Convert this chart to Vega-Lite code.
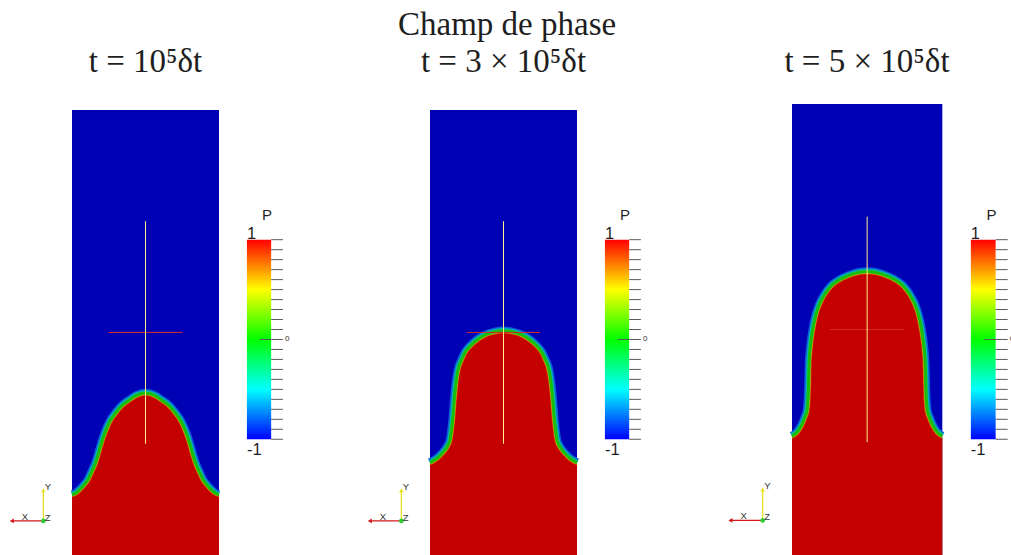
{
  "$schema": "https://vega.github.io/schema/vega-lite/v6.json",
  "background": "white",
  "padding": {"left": 0, "top": 9, "right": 0, "bottom": 0},
  "autosize": {"type": "pad"},
  "bounds": "flush",
  "spacing": 67,
  "title": {"text": "Champ de phase", "offset": 4, "anchor": "middle"},
  "config": {
    "view": {"stroke": null},
    "title": {"font": "Liberation Serif", "fontSize": 33, "fontWeight": "normal", "color": "#1e1e1e", "offset": 25, "anchor": "middle"}
  },
  "datasets": {
    "iface": [
      {"panel": 1, "x": 0, "y": 0.408, "xi": 0, "yi": 0.391},
      {"panel": 1, "x": 0.027, "y": 0.418, "xi": 0.036, "yi": 0.404},
      {"panel": 1, "x": 0.054, "y": 0.442, "xi": 0.066, "yi": 0.430},
      {"panel": 1, "x": 0.082, "y": 0.472, "xi": 0.095, "yi": 0.461},
      {"panel": 1, "x": 0.109, "y": 0.509, "xi": 0.124, "yi": 0.501},
      {"panel": 1, "x": 0.136, "y": 0.566, "xi": 0.152, "yi": 0.559},
      {"panel": 1, "x": 0.159, "y": 0.618, "xi": 0.175, "yi": 0.612},
      {"panel": 1, "x": 0.177, "y": 0.674, "xi": 0.193, "yi": 0.669},
      {"panel": 1, "x": 0.193, "y": 0.730, "xi": 0.209, "yi": 0.725},
      {"panel": 1, "x": 0.211, "y": 0.789, "xi": 0.227, "yi": 0.784},
      {"panel": 1, "x": 0.231, "y": 0.843, "xi": 0.247, "yi": 0.836},
      {"panel": 1, "x": 0.259, "y": 0.903, "xi": 0.274, "yi": 0.895},
      {"panel": 1, "x": 0.295, "y": 0.955, "xi": 0.309, "yi": 0.945},
      {"panel": 1, "x": 0.340, "y": 1.008, "xi": 0.352, "yi": 0.996},
      {"panel": 1, "x": 0.390, "y": 1.045, "xi": 0.400, "yi": 1.031},
      {"panel": 1, "x": 0.442, "y": 1.078, "xi": 0.449, "yi": 1.062},
      {"panel": 1, "x": 0.500, "y": 1.092, "xi": 0.500, "yi": 1.075},
      {"panel": 1, "x": 0.558, "y": 1.078, "xi": 0.551, "yi": 1.062},
      {"panel": 1, "x": 0.610, "y": 1.045, "xi": 0.600, "yi": 1.031},
      {"panel": 1, "x": 0.660, "y": 1.008, "xi": 0.648, "yi": 0.996},
      {"panel": 1, "x": 0.705, "y": 0.955, "xi": 0.691, "yi": 0.945},
      {"panel": 1, "x": 0.741, "y": 0.903, "xi": 0.726, "yi": 0.895},
      {"panel": 1, "x": 0.769, "y": 0.843, "xi": 0.753, "yi": 0.836},
      {"panel": 1, "x": 0.789, "y": 0.789, "xi": 0.773, "yi": 0.784},
      {"panel": 1, "x": 0.807, "y": 0.730, "xi": 0.791, "yi": 0.725},
      {"panel": 1, "x": 0.823, "y": 0.674, "xi": 0.807, "yi": 0.669},
      {"panel": 1, "x": 0.841, "y": 0.618, "xi": 0.825, "yi": 0.612},
      {"panel": 1, "x": 0.864, "y": 0.566, "xi": 0.848, "yi": 0.559},
      {"panel": 1, "x": 0.891, "y": 0.509, "xi": 0.876, "yi": 0.501},
      {"panel": 1, "x": 0.918, "y": 0.472, "xi": 0.905, "yi": 0.461},
      {"panel": 1, "x": 0.946, "y": 0.442, "xi": 0.934, "yi": 0.430},
      {"panel": 1, "x": 0.973, "y": 0.418, "xi": 0.964, "yi": 0.404},
      {"panel": 1, "x": 1, "y": 0.408, "xi": 1, "yi": 0.391},

      {"panel": 2, "x": 0, "y": 0.623, "xi": 0, "yi": 0.606},
      {"panel": 2, "x": 0.020, "y": 0.634, "xi": 0.029, "yi": 0.619},
      {"panel": 2, "x": 0.048, "y": 0.652, "xi": 0.059, "yi": 0.639},
      {"panel": 2, "x": 0.082, "y": 0.685, "xi": 0.095, "yi": 0.674},
      {"panel": 2, "x": 0.116, "y": 0.730, "xi": 0.131, "yi": 0.721},
      {"panel": 2, "x": 0.136, "y": 0.775, "xi": 0.152, "yi": 0.771},
      {"panel": 2, "x": 0.146, "y": 0.843, "xi": 0.163, "yi": 0.841},
      {"panel": 2, "x": 0.155, "y": 0.923, "xi": 0.172, "yi": 0.921},
      {"panel": 2, "x": 0.163, "y": 1.025, "xi": 0.180, "yi": 1.024},
      {"panel": 2, "x": 0.173, "y": 1.132, "xi": 0.190, "yi": 1.130},
      {"panel": 2, "x": 0.190, "y": 1.247, "xi": 0.207, "yi": 1.243},
      {"panel": 2, "x": 0.214, "y": 1.314, "xi": 0.230, "yi": 1.308},
      {"panel": 2, "x": 0.238, "y": 1.365, "xi": 0.252, "yi": 1.356},
      {"panel": 2, "x": 0.279, "y": 1.415, "xi": 0.291, "yi": 1.403},
      {"panel": 2, "x": 0.323, "y": 1.453, "xi": 0.333, "yi": 1.439},
      {"panel": 2, "x": 0.374, "y": 1.483, "xi": 0.381, "yi": 1.468},
      {"panel": 2, "x": 0.435, "y": 1.503, "xi": 0.439, "yi": 1.486},
      {"panel": 2, "x": 0.500, "y": 1.512, "xi": 0.500, "yi": 1.495},
      {"panel": 2, "x": 0.565, "y": 1.503, "xi": 0.561, "yi": 1.486},
      {"panel": 2, "x": 0.626, "y": 1.483, "xi": 0.619, "yi": 1.468},
      {"panel": 2, "x": 0.677, "y": 1.453, "xi": 0.667, "yi": 1.439},
      {"panel": 2, "x": 0.721, "y": 1.415, "xi": 0.709, "yi": 1.403},
      {"panel": 2, "x": 0.762, "y": 1.365, "xi": 0.748, "yi": 1.356},
      {"panel": 2, "x": 0.786, "y": 1.314, "xi": 0.770, "yi": 1.308},
      {"panel": 2, "x": 0.810, "y": 1.247, "xi": 0.793, "yi": 1.243},
      {"panel": 2, "x": 0.827, "y": 1.132, "xi": 0.810, "yi": 1.130},
      {"panel": 2, "x": 0.837, "y": 1.025, "xi": 0.820, "yi": 1.024},
      {"panel": 2, "x": 0.845, "y": 0.923, "xi": 0.828, "yi": 0.921},
      {"panel": 2, "x": 0.854, "y": 0.843, "xi": 0.837, "yi": 0.841},
      {"panel": 2, "x": 0.864, "y": 0.775, "xi": 0.848, "yi": 0.771},
      {"panel": 2, "x": 0.884, "y": 0.730, "xi": 0.869, "yi": 0.721},
      {"panel": 2, "x": 0.918, "y": 0.685, "xi": 0.905, "yi": 0.674},
      {"panel": 2, "x": 0.952, "y": 0.652, "xi": 0.941, "yi": 0.639},
      {"panel": 2, "x": 0.980, "y": 0.634, "xi": 0.971, "yi": 0.619},
      {"panel": 2, "x": 1, "y": 0.623, "xi": 1, "yi": 0.606},

      {"panel": 3, "x": 0, "y": 0.792, "xi": 0, "yi": 0.775},
      {"panel": 3, "x": 0.020, "y": 0.805, "xi": 0.031, "yi": 0.792},
      {"panel": 3, "x": 0.040, "y": 0.825, "xi": 0.054, "yi": 0.815},
      {"panel": 3, "x": 0.067, "y": 0.871, "xi": 0.082, "yi": 0.863},
      {"panel": 3, "x": 0.086, "y": 0.918, "xi": 0.102, "yi": 0.912},
      {"panel": 3, "x": 0.100, "y": 0.965, "xi": 0.117, "yi": 0.962},
      {"panel": 3, "x": 0.106, "y": 1.031, "xi": 0.123, "yi": 1.030},
      {"panel": 3, "x": 0.110, "y": 1.131, "xi": 0.127, "yi": 1.130},
      {"panel": 3, "x": 0.113, "y": 1.264, "xi": 0.130, "yi": 1.263},
      {"panel": 3, "x": 0.120, "y": 1.364, "xi": 0.137, "yi": 1.362},
      {"panel": 3, "x": 0.130, "y": 1.450, "xi": 0.147, "yi": 1.448},
      {"panel": 3, "x": 0.143, "y": 1.530, "xi": 0.160, "yi": 1.527},
      {"panel": 3, "x": 0.160, "y": 1.603, "xi": 0.176, "yi": 1.598},
      {"panel": 3, "x": 0.186, "y": 1.676, "xi": 0.202, "yi": 1.669},
      {"panel": 3, "x": 0.222, "y": 1.741, "xi": 0.236, "yi": 1.732},
      {"panel": 3, "x": 0.266, "y": 1.796, "xi": 0.278, "yi": 1.784},
      {"panel": 3, "x": 0.319, "y": 1.833, "xi": 0.327, "yi": 1.818},
      {"panel": 3, "x": 0.386, "y": 1.863, "xi": 0.392, "yi": 1.847},
      {"panel": 3, "x": 0.439, "y": 1.879, "xi": 0.442, "yi": 1.862},
      {"panel": 3, "x": 0.500, "y": 1.885, "xi": 0.500, "yi": 1.868},
      {"panel": 3, "x": 0.561, "y": 1.879, "xi": 0.558, "yi": 1.862},
      {"panel": 3, "x": 0.614, "y": 1.863, "xi": 0.608, "yi": 1.847},
      {"panel": 3, "x": 0.681, "y": 1.833, "xi": 0.673, "yi": 1.818},
      {"panel": 3, "x": 0.734, "y": 1.796, "xi": 0.722, "yi": 1.784},
      {"panel": 3, "x": 0.778, "y": 1.741, "xi": 0.764, "yi": 1.732},
      {"panel": 3, "x": 0.814, "y": 1.676, "xi": 0.798, "yi": 1.669},
      {"panel": 3, "x": 0.840, "y": 1.603, "xi": 0.824, "yi": 1.598},
      {"panel": 3, "x": 0.857, "y": 1.530, "xi": 0.840, "yi": 1.527},
      {"panel": 3, "x": 0.870, "y": 1.450, "xi": 0.853, "yi": 1.448},
      {"panel": 3, "x": 0.880, "y": 1.364, "xi": 0.863, "yi": 1.362},
      {"panel": 3, "x": 0.887, "y": 1.264, "xi": 0.870, "yi": 1.263},
      {"panel": 3, "x": 0.890, "y": 1.131, "xi": 0.873, "yi": 1.130},
      {"panel": 3, "x": 0.894, "y": 1.031, "xi": 0.877, "yi": 1.030},
      {"panel": 3, "x": 0.900, "y": 0.965, "xi": 0.883, "yi": 0.962},
      {"panel": 3, "x": 0.914, "y": 0.918, "xi": 0.898, "yi": 0.912},
      {"panel": 3, "x": 0.933, "y": 0.871, "xi": 0.918, "yi": 0.863},
      {"panel": 3, "x": 0.960, "y": 0.825, "xi": 0.946, "yi": 0.815},
      {"panel": 3, "x": 0.980, "y": 0.805, "xi": 0.969, "yi": 0.792},
      {"panel": 3, "x": 1, "y": 0.792, "xi": 1, "yi": 0.775}
    ],
    "domain": [{"x0": 0, "x1": 1, "y0": 0, "y1": 3}],
    "cross": [
      {"a": "X", "x0": 0.25, "x1": 0.75, "y0": 1.5, "y1": 1.5},
      {"a": "Y", "x0": 0.5, "x1": 0.5, "y0": 0.75, "y1": 2.25}
    ],
    "triad": [
      {"a": "X", "x0": -0.195, "y0": 0.23, "x1": -0.41, "y1": 0.23},
      {"a": "Y", "x0": -0.195, "y0": 0.23, "x1": -0.195, "y1": 0.436},
      {"a": "Z", "x0": -0.195, "y0": 0.23, "x1": -0.195, "y1": 0.23}
    ],
    "bar": [{"lo": -1, "hi": 1}],
    "ticks": [
      {"p": -1}, {"p": -0.9}, {"p": -0.8}, {"p": -0.7}, {"p": -0.6}, {"p": -0.5}, {"p": -0.4},
      {"p": -0.3}, {"p": -0.2}, {"p": -0.1}, {"p": 0}, {"p": 0.1}, {"p": 0.2}, {"p": 0.3},
      {"p": 0.4}, {"p": 0.5}, {"p": 0.6}, {"p": 0.7}, {"p": 0.8}, {"p": 0.9}, {"p": 1}
    ],
    "barLabels": [{"p": 1, "t": "1"}, {"p": -1, "t": "-1"}, {"p": 0, "t": "0"}]
  },
  "hconcat": [
    {
      "width": 291, "height": 451,
      "title": {"text": "t = 10⁵δt"},
      "resolve": {"scale": {"y": "independent"}},
      "layer": [
        {"layer": [
          {"data": {"name": "domain"}, "mark": {"type": "rect", "fill": "#0000b4"},
           "encoding": {
             "x": {"field": "x0", "type": "quantitative", "scale": {"domain": [-0.49, 1.49], "nice": false, "zero": false}, "axis": null},
             "x2": {"field": "x1"},
             "y": {"field": "y0", "type": "quantitative", "scale": {"domain": [0, 3.04], "nice": false, "zero": false}, "axis": null},
             "y2": {"field": "y1"}}},
          {"data": {"name": "iface"}, "transform": [{"filter": "datum.panel == 1"}],
           "layer": [
             {"mark": {"type": "line", "stroke": "#0b5fd6", "strokeWidth": 8.5, "interpolate": "monotone"},
              "encoding": {"x": {"field": "x", "type": "quantitative", "axis": null}, "y": {"field": "y", "type": "quantitative", "axis": null}}},
             {"mark": {"type": "line", "stroke": "#00b7b0", "strokeWidth": 5.5, "interpolate": "monotone"},
              "encoding": {"x": {"field": "x", "type": "quantitative", "axis": null}, "y": {"field": "y", "type": "quantitative", "axis": null}}},
             {"mark": {"type": "line", "stroke": "#c2bc00", "strokeWidth": 2.6, "interpolate": "monotone"},
              "encoding": {"x": {"field": "xi", "type": "quantitative", "axis": null}, "y": {"field": "yi", "type": "quantitative", "axis": null}}},
             {"mark": {"type": "line", "stroke": "#d26400", "strokeWidth": 1.2, "interpolate": "monotone"},
              "encoding": {"x": {"field": "xi", "type": "quantitative", "axis": null}, "y": {"field": "yi", "type": "quantitative", "axis": null}}},
             {"mark": {"type": "line", "stroke": "#19bd0a", "strokeWidth": 3, "interpolate": "monotone"},
              "encoding": {"x": {"field": "x", "type": "quantitative", "axis": null}, "y": {"field": "y", "type": "quantitative", "axis": null}}},
             {"mark": {"type": "area", "fill": "#c40000", "interpolate": "monotone"},
              "encoding": {"x": {"field": "xi", "type": "quantitative", "axis": null}, "y": {"field": "yi", "type": "quantitative", "stack": null, "axis": null}, "y2": {"datum": 0}}}
           ]},
          {"data": {"name": "cross"}, "transform": [{"filter": "datum.a == 'X'"}],
           "mark": {"type": "rule", "stroke": "#d42a2a", "strokeWidth": 1},
           "encoding": {"x": {"field": "x0", "type": "quantitative", "axis": null}, "x2": {"field": "x1"}, "y": {"field": "y0", "type": "quantitative", "axis": null}, "y2": {"field": "y1"}}},
          {"data": {"name": "cross"}, "transform": [{"filter": "datum.a == 'Y'"}],
           "mark": {"type": "rule", "stroke": "#fff08a", "strokeWidth": 1},
           "encoding": {"x": {"field": "x0", "type": "quantitative", "axis": null}, "x2": {"field": "x1"}, "y": {"field": "y0", "type": "quantitative", "axis": null}, "y2": {"field": "y1"}}},
          {"data": {"name": "triad"}, "transform": [{"filter": "datum.a == 'X'"}],
           "mark": {"type": "rule", "stroke": "#d01818", "strokeWidth": 1.3},
           "encoding": {"x": {"field": "x0", "type": "quantitative", "axis": null}, "x2": {"field": "x1"}, "y": {"field": "y0", "type": "quantitative", "axis": null}, "y2": {"field": "y1"}}},
          {"data": {"name": "triad"}, "transform": [{"filter": "datum.a == 'Y'"}],
           "mark": {"type": "rule", "stroke": "#e8e020", "strokeWidth": 1.3},
           "encoding": {"x": {"field": "x0", "type": "quantitative", "axis": null}, "x2": {"field": "x1"}, "y": {"field": "y0", "type": "quantitative", "axis": null}, "y2": {"field": "y1"}}},
          {"data": {"name": "triad"},
           "mark": {"type": "point", "filled": true, "size": 22, "opacity": 1},
           "encoding": {
             "x": {"field": "x1", "type": "quantitative", "axis": null},
             "y": {"field": "y1", "type": "quantitative", "axis": null},
             "shape": {"field": "a", "type": "nominal", "scale": {"domain": ["X", "Y", "Z"], "range": ["triangle-left", "triangle-up", "circle"]}, "legend": null},
             "color": {"field": "a", "type": "nominal", "scale": {"domain": ["X", "Y", "Z"], "range": ["#d01818", "#e8e020", "#2ecc2e"]}, "legend": null}}},
          {"data": {"name": "triad"}, "transform": [{"filter": "datum.a == 'X'"}],
           "mark": {"type": "text", "align": "left", "baseline": "middle", "dx": 10, "dy": -4, "font": "Liberation Sans", "fontSize": 9.5, "fill": "#333333"},
           "encoding": {"x": {"field": "x1", "type": "quantitative", "axis": null}, "y": {"field": "y1", "type": "quantitative", "axis": null}, "text": {"field": "a"}}},
          {"data": {"name": "triad"}, "transform": [{"filter": "datum.a != 'X'"}],
           "mark": {"type": "text", "align": "left", "baseline": "middle", "dx": 1.5, "dy": -3, "font": "Liberation Sans", "fontSize": 9.5, "fill": "#333333"},
           "encoding": {"x": {"field": "x1", "type": "quantitative", "axis": null}, "y": {"field": "y1", "type": "quantitative", "axis": null}, "text": {"field": "a"}}}
        ]},
        {"layer": [
          {"data": {"name": "bar"},
           "mark": {"type": "rect", "fill": {"gradient": "linear", "x1": 0, "y1": 1, "x2": 0, "y2": 0, "stops": [
             {"offset": 0, "color": "#0000ff"}, {"offset": 0.25, "color": "#00ffff"}, {"offset": 0.5, "color": "#00ff00"}, {"offset": 0.75, "color": "#ffff00"}, {"offset": 1, "color": "#ff0000"}]}},
           "encoding": {
             "x": {"datum": 1.19, "type": "quantitative", "axis": null},
             "x2": {"datum": 1.355},
             "y": {"field": "lo", "type": "quantitative", "scale": {"domain": [-2.16, 2.36], "nice": false, "zero": false}, "axis": null},
             "y2": {"field": "hi"}}},
          {"data": {"name": "ticks"},
           "mark": {"type": "rule", "stroke": "#5a5a5a", "strokeWidth": 1},
           "encoding": {"x": {"datum": 1.355, "type": "quantitative", "axis": null}, "x2": {"datum": 1.435}, "y": {"field": "p", "type": "quantitative", "axis": null}}},
          {"data": {"name": "ticks"}, "transform": [{"filter": "datum.p == 0"}],
           "mark": {"type": "rule", "stroke": "#5a5a5a", "strokeWidth": 1},
           "encoding": {"x": {"datum": 1.279, "type": "quantitative", "axis": null}, "x2": {"datum": 1.355}, "y": {"field": "p", "type": "quantitative", "axis": null}}},
          {"data": {"name": "barLabels"}, "transform": [{"filter": "datum.p == 1"}],
           "mark": {"type": "text", "align": "left", "baseline": "alphabetic", "dy": -1, "font": "Liberation Sans", "fontSize": 16.5, "fill": "#1e1e1e"},
           "encoding": {"x": {"datum": 1.19, "type": "quantitative", "axis": null}, "y": {"field": "p", "type": "quantitative", "axis": null}, "text": {"field": "t"}}},
          {"data": {"name": "barLabels"}, "transform": [{"filter": "datum.p == -1"}],
           "mark": {"type": "text", "align": "left", "baseline": "top", "dy": 3, "font": "Liberation Sans", "fontSize": 16.5, "fill": "#1e1e1e"},
           "encoding": {"x": {"datum": 1.19, "type": "quantitative", "axis": null}, "y": {"field": "p", "type": "quantitative", "axis": null}, "text": {"field": "t"}}},
          {"data": {"name": "barLabels"}, "transform": [{"filter": "datum.p == 0"}],
           "mark": {"type": "text", "align": "left", "baseline": "middle", "dx": 2, "font": "Liberation Sans", "fontSize": 8, "fill": "#333333"},
           "encoding": {"x": {"datum": 1.435, "type": "quantitative", "axis": null}, "y": {"field": "p", "type": "quantitative", "axis": null}, "text": {"field": "t"}}},
          {"data": {"values": [{"p": 1, "t": "P"}]},
           "mark": {"type": "text", "align": "center", "baseline": "alphabetic", "dy": -20, "font": "Liberation Sans", "fontSize": 15, "fill": "#1e1e1e"},
           "encoding": {"x": {"datum": 1.327, "type": "quantitative", "axis": null}, "y": {"field": "p", "type": "quantitative", "axis": null}, "text": {"field": "t"}}}
        ]}
      ]
    },
    {
      "width": 291, "height": 451,
      "title": {"text": "t = 3 × 10⁵δt"},
      "resolve": {"scale": {"y": "independent"}},
      "layer": [
        {"layer": [
          {"data": {"name": "domain"}, "mark": {"type": "rect", "fill": "#0000b4"},
           "encoding": {
             "x": {"field": "x0", "type": "quantitative", "scale": {"domain": [-0.49, 1.49], "nice": false, "zero": false}, "axis": null},
             "x2": {"field": "x1"},
             "y": {"field": "y0", "type": "quantitative", "scale": {"domain": [0, 3.04], "nice": false, "zero": false}, "axis": null},
             "y2": {"field": "y1"}}},
          {"data": {"name": "iface"}, "transform": [{"filter": "datum.panel == 2"}],
           "layer": [
             {"mark": {"type": "line", "stroke": "#0b5fd6", "strokeWidth": 8.5, "interpolate": "monotone"},
              "encoding": {"x": {"field": "x", "type": "quantitative", "axis": null}, "y": {"field": "y", "type": "quantitative", "axis": null}}},
             {"mark": {"type": "line", "stroke": "#00b7b0", "strokeWidth": 5.5, "interpolate": "monotone"},
              "encoding": {"x": {"field": "x", "type": "quantitative", "axis": null}, "y": {"field": "y", "type": "quantitative", "axis": null}}},
             {"mark": {"type": "line", "stroke": "#c2bc00", "strokeWidth": 2.6, "interpolate": "monotone"},
              "encoding": {"x": {"field": "xi", "type": "quantitative", "axis": null}, "y": {"field": "yi", "type": "quantitative", "axis": null}}},
             {"mark": {"type": "line", "stroke": "#d26400", "strokeWidth": 1.2, "interpolate": "monotone"},
              "encoding": {"x": {"field": "xi", "type": "quantitative", "axis": null}, "y": {"field": "yi", "type": "quantitative", "axis": null}}},
             {"mark": {"type": "line", "stroke": "#19bd0a", "strokeWidth": 3, "interpolate": "monotone"},
              "encoding": {"x": {"field": "x", "type": "quantitative", "axis": null}, "y": {"field": "y", "type": "quantitative", "axis": null}}},
             {"mark": {"type": "area", "fill": "#c40000", "interpolate": "monotone"},
              "encoding": {"x": {"field": "xi", "type": "quantitative", "axis": null}, "y": {"field": "yi", "type": "quantitative", "stack": null, "axis": null}, "y2": {"datum": 0}}}
           ]},
          {"data": {"name": "cross"}, "transform": [{"filter": "datum.a == 'X'"}],
           "mark": {"type": "rule", "stroke": "#d42a2a", "strokeWidth": 1},
           "encoding": {"x": {"field": "x0", "type": "quantitative", "axis": null}, "x2": {"field": "x1"}, "y": {"field": "y0", "type": "quantitative", "axis": null}, "y2": {"field": "y1"}}},
          {"data": {"name": "cross"}, "transform": [{"filter": "datum.a == 'Y'"}],
           "mark": {"type": "rule", "stroke": "#fff08a", "strokeWidth": 1},
           "encoding": {"x": {"field": "x0", "type": "quantitative", "axis": null}, "x2": {"field": "x1"}, "y": {"field": "y0", "type": "quantitative", "axis": null}, "y2": {"field": "y1"}}},
          {"data": {"name": "triad"}, "transform": [{"filter": "datum.a == 'X'"}],
           "mark": {"type": "rule", "stroke": "#d01818", "strokeWidth": 1.3},
           "encoding": {"x": {"field": "x0", "type": "quantitative", "axis": null}, "x2": {"field": "x1"}, "y": {"field": "y0", "type": "quantitative", "axis": null}, "y2": {"field": "y1"}}},
          {"data": {"name": "triad"}, "transform": [{"filter": "datum.a == 'Y'"}],
           "mark": {"type": "rule", "stroke": "#e8e020", "strokeWidth": 1.3},
           "encoding": {"x": {"field": "x0", "type": "quantitative", "axis": null}, "x2": {"field": "x1"}, "y": {"field": "y0", "type": "quantitative", "axis": null}, "y2": {"field": "y1"}}},
          {"data": {"name": "triad"},
           "mark": {"type": "point", "filled": true, "size": 22, "opacity": 1},
           "encoding": {
             "x": {"field": "x1", "type": "quantitative", "axis": null},
             "y": {"field": "y1", "type": "quantitative", "axis": null},
             "shape": {"field": "a", "type": "nominal", "scale": {"domain": ["X", "Y", "Z"], "range": ["triangle-left", "triangle-up", "circle"]}, "legend": null},
             "color": {"field": "a", "type": "nominal", "scale": {"domain": ["X", "Y", "Z"], "range": ["#d01818", "#e8e020", "#2ecc2e"]}, "legend": null}}},
          {"data": {"name": "triad"}, "transform": [{"filter": "datum.a == 'X'"}],
           "mark": {"type": "text", "align": "left", "baseline": "middle", "dx": 10, "dy": -4, "font": "Liberation Sans", "fontSize": 9.5, "fill": "#333333"},
           "encoding": {"x": {"field": "x1", "type": "quantitative", "axis": null}, "y": {"field": "y1", "type": "quantitative", "axis": null}, "text": {"field": "a"}}},
          {"data": {"name": "triad"}, "transform": [{"filter": "datum.a != 'X'"}],
           "mark": {"type": "text", "align": "left", "baseline": "middle", "dx": 1.5, "dy": -3, "font": "Liberation Sans", "fontSize": 9.5, "fill": "#333333"},
           "encoding": {"x": {"field": "x1", "type": "quantitative", "axis": null}, "y": {"field": "y1", "type": "quantitative", "axis": null}, "text": {"field": "a"}}}
        ]},
        {"layer": [
          {"data": {"name": "bar"},
           "mark": {"type": "rect", "fill": {"gradient": "linear", "x1": 0, "y1": 1, "x2": 0, "y2": 0, "stops": [
             {"offset": 0, "color": "#0000ff"}, {"offset": 0.25, "color": "#00ffff"}, {"offset": 0.5, "color": "#00ff00"}, {"offset": 0.75, "color": "#ffff00"}, {"offset": 1, "color": "#ff0000"}]}},
           "encoding": {
             "x": {"datum": 1.19, "type": "quantitative", "axis": null},
             "x2": {"datum": 1.355},
             "y": {"field": "lo", "type": "quantitative", "scale": {"domain": [-2.16, 2.36], "nice": false, "zero": false}, "axis": null},
             "y2": {"field": "hi"}}},
          {"data": {"name": "ticks"},
           "mark": {"type": "rule", "stroke": "#5a5a5a", "strokeWidth": 1},
           "encoding": {"x": {"datum": 1.355, "type": "quantitative", "axis": null}, "x2": {"datum": 1.435}, "y": {"field": "p", "type": "quantitative", "axis": null}}},
          {"data": {"name": "ticks"}, "transform": [{"filter": "datum.p == 0"}],
           "mark": {"type": "rule", "stroke": "#5a5a5a", "strokeWidth": 1},
           "encoding": {"x": {"datum": 1.279, "type": "quantitative", "axis": null}, "x2": {"datum": 1.355}, "y": {"field": "p", "type": "quantitative", "axis": null}}},
          {"data": {"name": "barLabels"}, "transform": [{"filter": "datum.p == 1"}],
           "mark": {"type": "text", "align": "left", "baseline": "alphabetic", "dy": -1, "font": "Liberation Sans", "fontSize": 16.5, "fill": "#1e1e1e"},
           "encoding": {"x": {"datum": 1.19, "type": "quantitative", "axis": null}, "y": {"field": "p", "type": "quantitative", "axis": null}, "text": {"field": "t"}}},
          {"data": {"name": "barLabels"}, "transform": [{"filter": "datum.p == -1"}],
           "mark": {"type": "text", "align": "left", "baseline": "top", "dy": 3, "font": "Liberation Sans", "fontSize": 16.5, "fill": "#1e1e1e"},
           "encoding": {"x": {"datum": 1.19, "type": "quantitative", "axis": null}, "y": {"field": "p", "type": "quantitative", "axis": null}, "text": {"field": "t"}}},
          {"data": {"name": "barLabels"}, "transform": [{"filter": "datum.p == 0"}],
           "mark": {"type": "text", "align": "left", "baseline": "middle", "dx": 2, "font": "Liberation Sans", "fontSize": 8, "fill": "#333333"},
           "encoding": {"x": {"datum": 1.435, "type": "quantitative", "axis": null}, "y": {"field": "p", "type": "quantitative", "axis": null}, "text": {"field": "t"}}},
          {"data": {"values": [{"p": 1, "t": "P"}]},
           "mark": {"type": "text", "align": "center", "baseline": "alphabetic", "dy": -20, "font": "Liberation Sans", "fontSize": 15, "fill": "#1e1e1e"},
           "encoding": {"x": {"datum": 1.327, "type": "quantitative", "axis": null}, "y": {"field": "p", "type": "quantitative", "axis": null}, "text": {"field": "t"}}}
        ]}
      ]
    },
    {
      "width": 295, "height": 451,
      "title": {"text": "t = 5 × 10⁵δt", "dx": 3.5},
      "resolve": {"scale": {"y": "independent"}},
      "layer": [
        {"layer": [
          {"data": {"name": "domain"}, "mark": {"type": "rect", "fill": "#0000b4"},
           "encoding": {
             "x": {"field": "x0", "type": "quantitative", "scale": {"domain": [-0.5057, 1.4571], "nice": false, "zero": false}, "axis": null},
             "x2": {"field": "x1"},
             "y": {"field": "y0", "type": "quantitative", "scale": {"domain": [0, 3], "nice": false, "zero": false}, "axis": null},
             "y2": {"field": "y1"}}},
          {"data": {"name": "iface"}, "transform": [{"filter": "datum.panel == 3"}],
           "layer": [
             {"mark": {"type": "line", "stroke": "#0b5fd6", "strokeWidth": 8.5, "interpolate": "monotone"},
              "encoding": {"x": {"field": "x", "type": "quantitative", "axis": null}, "y": {"field": "y", "type": "quantitative", "axis": null}}},
             {"mark": {"type": "line", "stroke": "#00b7b0", "strokeWidth": 5.5, "interpolate": "monotone"},
              "encoding": {"x": {"field": "x", "type": "quantitative", "axis": null}, "y": {"field": "y", "type": "quantitative", "axis": null}}},
             {"mark": {"type": "line", "stroke": "#c2bc00", "strokeWidth": 2.6, "interpolate": "monotone"},
              "encoding": {"x": {"field": "xi", "type": "quantitative", "axis": null}, "y": {"field": "yi", "type": "quantitative", "axis": null}}},
             {"mark": {"type": "line", "stroke": "#d26400", "strokeWidth": 1.2, "interpolate": "monotone"},
              "encoding": {"x": {"field": "xi", "type": "quantitative", "axis": null}, "y": {"field": "yi", "type": "quantitative", "axis": null}}},
             {"mark": {"type": "line", "stroke": "#19bd0a", "strokeWidth": 3, "interpolate": "monotone"},
              "encoding": {"x": {"field": "x", "type": "quantitative", "axis": null}, "y": {"field": "y", "type": "quantitative", "axis": null}}},
             {"mark": {"type": "area", "fill": "#c40000", "interpolate": "monotone"},
              "encoding": {"x": {"field": "xi", "type": "quantitative", "axis": null}, "y": {"field": "yi", "type": "quantitative", "stack": null, "axis": null}, "y2": {"datum": 0}}}
           ]},
          {"data": {"name": "cross"}, "transform": [{"filter": "datum.a == 'X'"}],
           "mark": {"type": "rule", "stroke": "#d42a2a", "strokeWidth": 1},
           "encoding": {"x": {"field": "x0", "type": "quantitative", "axis": null}, "x2": {"field": "x1"}, "y": {"field": "y0", "type": "quantitative", "axis": null}, "y2": {"field": "y1"}}},
          {"data": {"name": "cross"}, "transform": [{"filter": "datum.a == 'Y'"}],
           "mark": {"type": "rule", "stroke": "#fff08a", "strokeWidth": 1},
           "encoding": {"x": {"field": "x0", "type": "quantitative", "axis": null}, "x2": {"field": "x1"}, "y": {"field": "y0", "type": "quantitative", "axis": null}, "y2": {"field": "y1"}}},
          {"data": {"name": "triad"}, "transform": [{"filter": "datum.a == 'X'"}],
           "mark": {"type": "rule", "stroke": "#d01818", "strokeWidth": 1.3},
           "encoding": {"x": {"field": "x0", "type": "quantitative", "axis": null}, "x2": {"field": "x1"}, "y": {"field": "y0", "type": "quantitative", "axis": null}, "y2": {"field": "y1"}}},
          {"data": {"name": "triad"}, "transform": [{"filter": "datum.a == 'Y'"}],
           "mark": {"type": "rule", "stroke": "#e8e020", "strokeWidth": 1.3},
           "encoding": {"x": {"field": "x0", "type": "quantitative", "axis": null}, "x2": {"field": "x1"}, "y": {"field": "y0", "type": "quantitative", "axis": null}, "y2": {"field": "y1"}}},
          {"data": {"name": "triad"},
           "mark": {"type": "point", "filled": true, "size": 22, "opacity": 1},
           "encoding": {
             "x": {"field": "x1", "type": "quantitative", "axis": null},
             "y": {"field": "y1", "type": "quantitative", "axis": null},
             "shape": {"field": "a", "type": "nominal", "scale": {"domain": ["X", "Y", "Z"], "range": ["triangle-left", "triangle-up", "circle"]}, "legend": null},
             "color": {"field": "a", "type": "nominal", "scale": {"domain": ["X", "Y", "Z"], "range": ["#d01818", "#e8e020", "#2ecc2e"]}, "legend": null}}},
          {"data": {"name": "triad"}, "transform": [{"filter": "datum.a == 'X'"}],
           "mark": {"type": "text", "align": "left", "baseline": "middle", "dx": 10, "dy": -4, "font": "Liberation Sans", "fontSize": 9.5, "fill": "#333333"},
           "encoding": {"x": {"field": "x1", "type": "quantitative", "axis": null}, "y": {"field": "y1", "type": "quantitative", "axis": null}, "text": {"field": "a"}}},
          {"data": {"name": "triad"}, "transform": [{"filter": "datum.a != 'X'"}],
           "mark": {"type": "text", "align": "left", "baseline": "middle", "dx": 1.5, "dy": -3, "font": "Liberation Sans", "fontSize": 9.5, "fill": "#333333"},
           "encoding": {"x": {"field": "x1", "type": "quantitative", "axis": null}, "y": {"field": "y1", "type": "quantitative", "axis": null}, "text": {"field": "a"}}}
        ]},
        {"layer": [
          {"data": {"name": "bar"},
           "mark": {"type": "rect", "fill": {"gradient": "linear", "x1": 0, "y1": 1, "x2": 0, "y2": 0, "stops": [
             {"offset": 0, "color": "#0000ff"}, {"offset": 0.25, "color": "#00ffff"}, {"offset": 0.5, "color": "#00ff00"}, {"offset": 0.75, "color": "#ffff00"}, {"offset": 1, "color": "#ff0000"}]}},
           "encoding": {
             "x": {"datum": 1.19, "type": "quantitative", "axis": null},
             "x2": {"datum": 1.355},
             "y": {"field": "lo", "type": "quantitative", "scale": {"domain": [-2.16, 2.36], "nice": false, "zero": false}, "axis": null},
             "y2": {"field": "hi"}}},
          {"data": {"name": "ticks"},
           "mark": {"type": "rule", "stroke": "#5a5a5a", "strokeWidth": 1},
           "encoding": {"x": {"datum": 1.355, "type": "quantitative", "axis": null}, "x2": {"datum": 1.435}, "y": {"field": "p", "type": "quantitative", "axis": null}}},
          {"data": {"name": "ticks"}, "transform": [{"filter": "datum.p == 0"}],
           "mark": {"type": "rule", "stroke": "#5a5a5a", "strokeWidth": 1},
           "encoding": {"x": {"datum": 1.279, "type": "quantitative", "axis": null}, "x2": {"datum": 1.355}, "y": {"field": "p", "type": "quantitative", "axis": null}}},
          {"data": {"name": "barLabels"}, "transform": [{"filter": "datum.p == 1"}],
           "mark": {"type": "text", "align": "left", "baseline": "alphabetic", "dy": -1, "font": "Liberation Sans", "fontSize": 16.5, "fill": "#1e1e1e"},
           "encoding": {"x": {"datum": 1.19, "type": "quantitative", "axis": null}, "y": {"field": "p", "type": "quantitative", "axis": null}, "text": {"field": "t"}}},
          {"data": {"name": "barLabels"}, "transform": [{"filter": "datum.p == -1"}],
           "mark": {"type": "text", "align": "left", "baseline": "top", "dy": 3, "font": "Liberation Sans", "fontSize": 16.5, "fill": "#1e1e1e"},
           "encoding": {"x": {"datum": 1.19, "type": "quantitative", "axis": null}, "y": {"field": "p", "type": "quantitative", "axis": null}, "text": {"field": "t"}}},
          {"data": {"name": "barLabels"}, "transform": [{"filter": "datum.p == 0"}],
           "mark": {"type": "text", "align": "left", "baseline": "middle", "dx": 2, "font": "Liberation Sans", "fontSize": 8, "fill": "#333333"},
           "encoding": {"x": {"datum": 1.435, "type": "quantitative", "axis": null}, "y": {"field": "p", "type": "quantitative", "axis": null}, "text": {"field": "t"}}},
          {"data": {"values": [{"p": 1, "t": "P"}]},
           "mark": {"type": "text", "align": "center", "baseline": "alphabetic", "dy": -20, "font": "Liberation Sans", "fontSize": 15, "fill": "#1e1e1e"},
           "encoding": {"x": {"datum": 1.327, "type": "quantitative", "axis": null}, "y": {"field": "p", "type": "quantitative", "axis": null}, "text": {"field": "t"}}}
        ]}
      ]
    }
  ]
}
